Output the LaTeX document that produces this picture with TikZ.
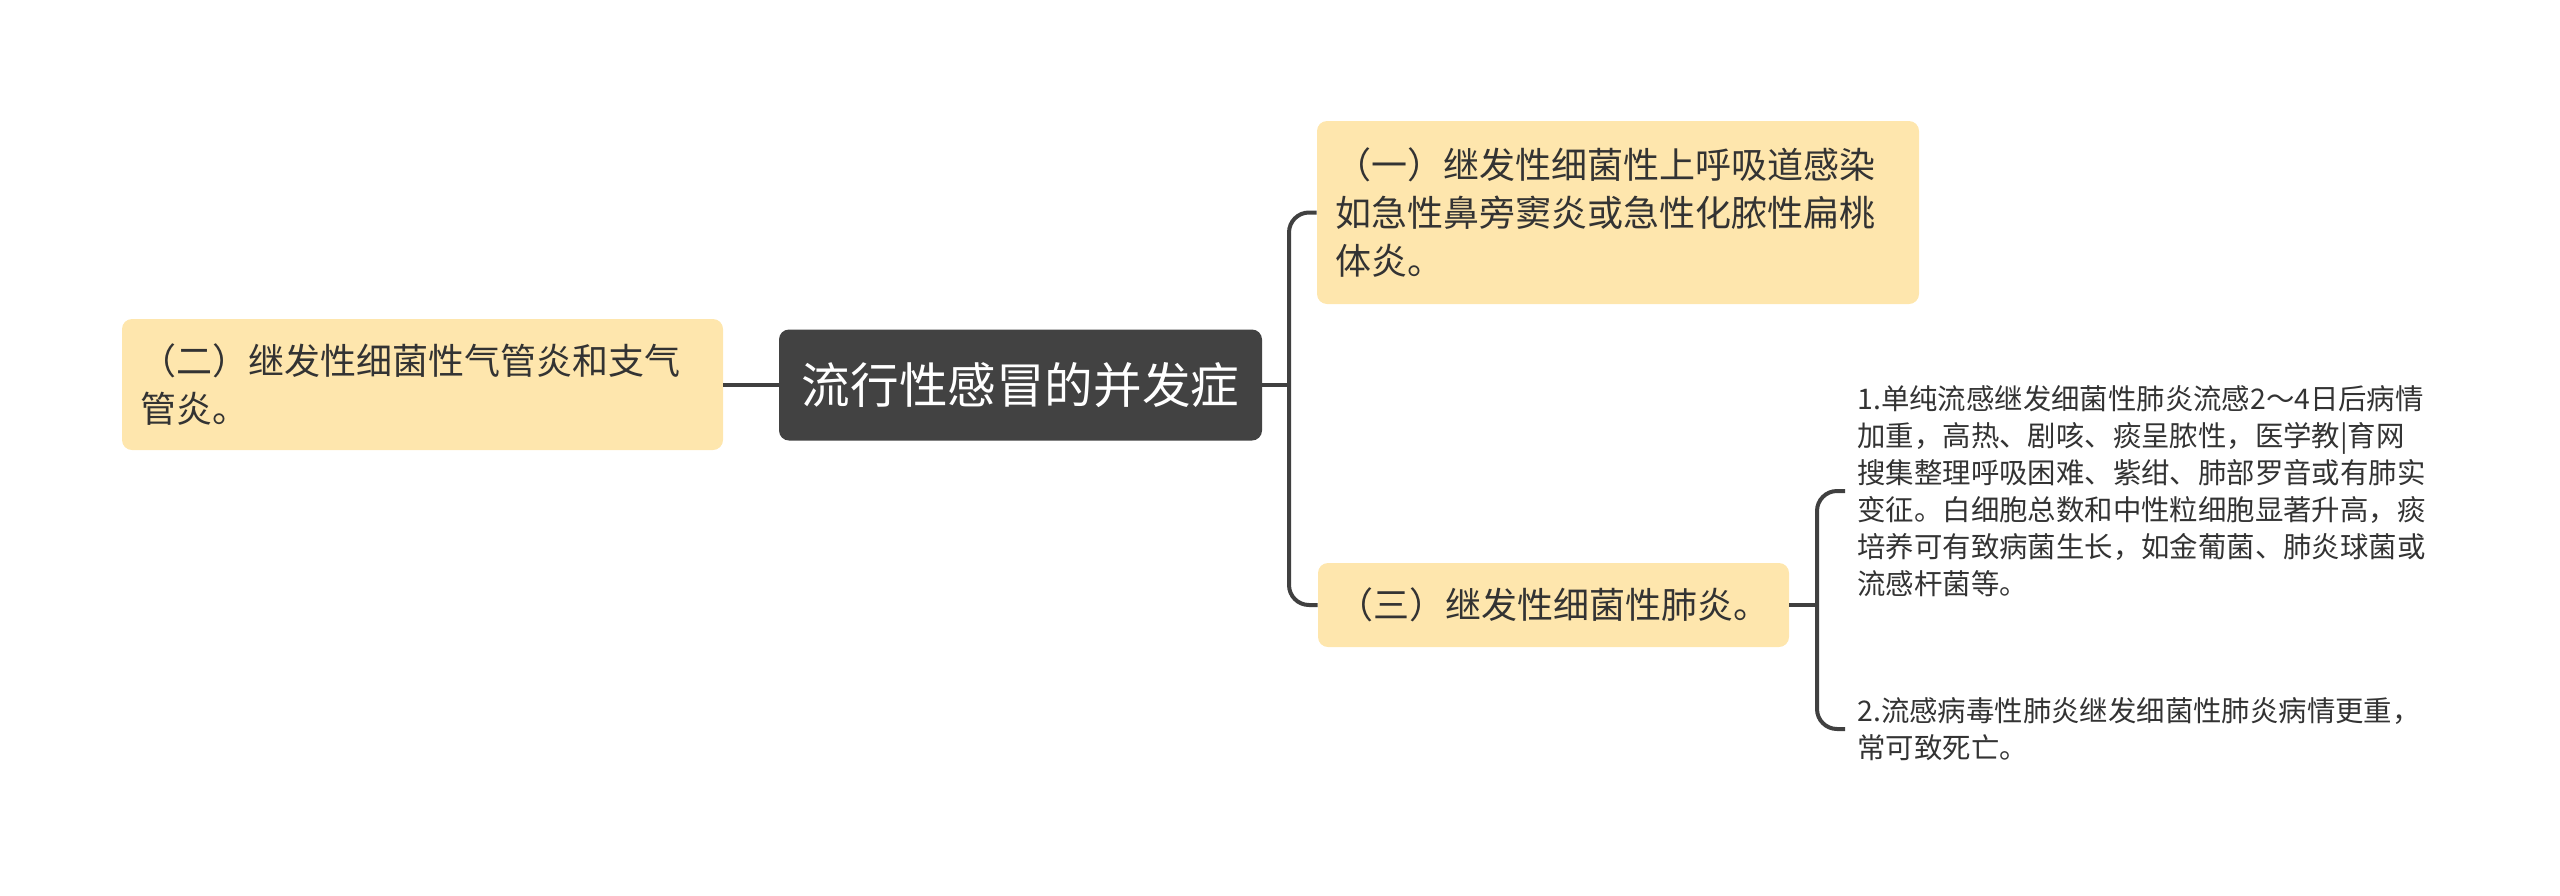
\documentclass[tikz,border=0pt]{standalone}
\usepackage{fontspec}
\setmainfont{Noto Sans CJK SC}
\usetikzlibrary{positioning}
\definecolor{topicfill}{HTML}{FEE6AD}
\definecolor{rootfill}{HTML}{424242}
\definecolor{inktxt}{HTML}{333333}
\definecolor{linecol}{HTML}{404040}
\begin{document}
\begin{tikzpicture}[x=0.5pt,y=-0.5pt,
  rootbox/.style={draw=none,fill=rootfill,rounded corners=5pt,text=white,
    minimum width=241.5pt,minimum height=55.5pt,inner sep=0pt,
    font=\fontsize{24.3}{30}\selectfont},
  topicbox/.style={draw=none,fill=topicfill,rounded corners=5pt,text=inktxt,
    inner xsep=9pt,inner ysep=0pt,align=left,
    font=\fontsize{18}{24}\selectfont},
  leaftxt/.style={text=inktxt,inner xsep=6pt,inner ysep=0pt,align=left,anchor=west,
    font=\fontsize{14.2}{18.5}\selectfont},
  conn/.style={draw=linecol,line width=2pt,rounded corners=10pt}
]
\useasboundingbox (0,0) rectangle (2560,895);

\node[rootbox] (c) at (1020.5,385) {流行性感冒的并发症};

\node[topicbox,text width=283pt,minimum height=91.5pt] (n1) at (1618,212.5)
  {（一）继发性细菌性上呼吸道感染\\如急性鼻旁窦炎或急性化脓性扁桃\\体炎。};

\node[topicbox,text width=282.5pt,minimum height=65.5pt] (n2) at (422.5,384.5)
  {（二）继发性细菌性气管炎和支气\\管炎。};

\node[topicbox,text width=216pt,inner xsep=9.75pt,minimum height=42pt] (n3) at (1553.5,605)
  {（三）继发性细菌性肺炎。};

\node[leaftxt] (t1) at (1845,491)
  {1.单纯流感继发细菌性肺炎流感2～4日后病情\\加重，高热、剧咳、痰呈脓性，医学教|育网\\搜集整理呼吸困难、紫绀、肺部罗音或有肺实\\变征。白细胞总数和中性粒细胞显著升高，痰\\培养可有致病菌生长，如金葡菌、肺炎球菌或\\流感杆菌等。};

\node[leaftxt] (t2) at (1845,729)
  {2.流感病毒性肺炎继发细菌性肺炎病情更重，\\常可致死亡。};

\coordinate (bx) at (1289,385);
\coordinate (bx2) at (1817,605);

\draw[conn] (c.west) -- (c.west -| n2.east);
\draw[conn] (c.east) -- (bx);
\draw[conn] (n1.west) -| (bx) |- (n3.west);
\draw[conn] (n3.east) -- (bx2);
\draw[conn] (t1.west) -| (bx2) |- (t2.west);
\end{tikzpicture}
\end{document}
